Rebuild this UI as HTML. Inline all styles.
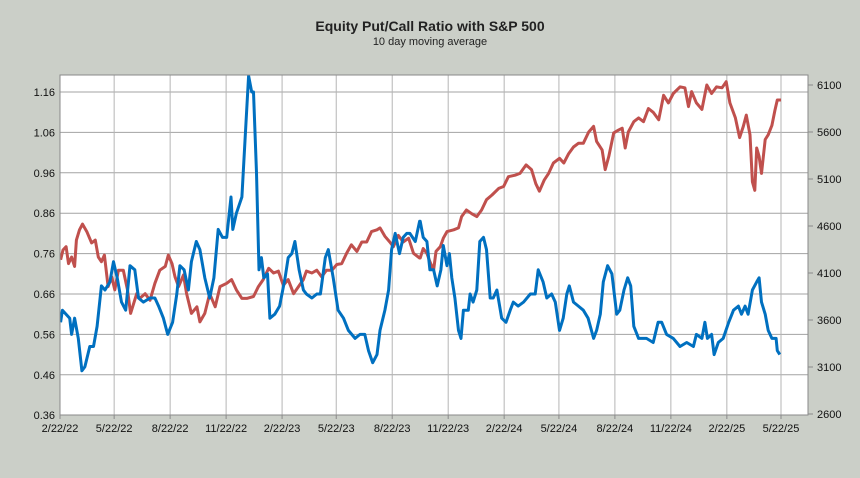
<!DOCTYPE html>
<html><head><meta charset="utf-8"><style>
html,body{margin:0;padding:0;background:#cbcfc8;}
svg{display:block;font-family:"Liberation Sans",Arial,sans-serif;}
</style></head><body>
<svg id="chart" width="860" height="478">
<rect x="0" y="0" width="860" height="478" fill="#cbcfc8"/>
<text x="430" y="31" text-anchor="middle" font-size="14" font-weight="bold" fill="#222">Equity Put/Call Ratio with S&amp;P 500</text>
<text x="430" y="45" text-anchor="middle" font-size="11" fill="#222">10 day moving average</text>
<defs><clipPath id="clip"><rect x="60" y="75" width="748" height="340"/></clipPath></defs>
<rect x="60" y="75" width="748" height="340" fill="#fff"/>
<g id="grid"></g><g id="series" clip-path="url(#clip)"></g>
<rect x="60" y="75" width="748" height="340" fill="none" stroke="#8a8a8a" stroke-width="1"/>
<g id="axes"></g>
</svg>
<script>
const xTickLabels=["2/22/22","5/22/22","8/22/22","11/22/22","2/22/23","5/22/23","8/22/23","11/22/23","2/22/24","5/22/24","8/22/24","11/22/24","2/22/25","5/22/25"];
const xTickDays=[0,89,181,273,365,454,546,638,730,820,912,1004,1096,1185];
const leftTicks=[0.36,0.46,0.56,0.66,0.76,0.86,0.96,1.06,1.16];
const rightTicks=[2600,3100,3600,4100,4600,5100,5600,6100];
const pcDays=[1,4,16,19,24,30,36,41,49,55,61,68,74,82,88,94,101,108,115,123,129,137,148,156,162,170,177,185,192,197,204,211,216,224,230,238,246,253,260,267,274,281,284,290,299,304,310,315,318,323,327,331,335,341,345,353,361,370,375,381,386,393,400,405,414,422,428,436,441,449,457,466,474,485,493,501,507,514,521,526,534,540,545,551,558,564,570,575,584,591,592,597,603,608,614,620,626,630,636,640,644,649,655,659,663,671,674,679,685,690,696,701,707,712,718,726,733,740,745,753,762,773,781,786,794,800,808,814,821,827,833,837,844,852,860,868,877,882,888,893,900,907,915,920,927,933,938,943,951,964,975,983,989,997,1008,1019,1030,1041,1046,1055,1060,1064,1071,1075,1082,1090,1099,1107,1115,1120,1126,1131,1138,1145,1149,1153,1159,1164,1170,1177,1179,1183];
const pcValues=[0.59,0.62,0.60,0.56,0.60,0.55,0.47,0.48,0.53,0.53,0.58,0.68,0.67,0.69,0.74,0.70,0.64,0.62,0.73,0.72,0.65,0.64,0.65,0.65,0.63,0.60,0.56,0.59,0.66,0.73,0.72,0.67,0.74,0.79,0.77,0.70,0.65,0.70,0.82,0.80,0.80,0.90,0.82,0.86,0.90,1.04,1.20,1.16,1.16,0.96,0.72,0.75,0.70,0.71,0.60,0.61,0.63,0.70,0.75,0.76,0.79,0.72,0.67,0.66,0.65,0.66,0.66,0.75,0.77,0.70,0.62,0.60,0.57,0.55,0.56,0.56,0.52,0.49,0.51,0.57,0.62,0.67,0.77,0.81,0.76,0.80,0.81,0.81,0.79,0.84,0.84,0.80,0.79,0.72,0.72,0.68,0.72,0.78,0.73,0.76,0.70,0.65,0.57,0.55,0.62,0.62,0.66,0.64,0.67,0.79,0.80,0.77,0.65,0.65,0.67,0.60,0.59,0.62,0.64,0.63,0.64,0.66,0.66,0.72,0.69,0.65,0.66,0.64,0.57,0.60,0.66,0.68,0.64,0.63,0.62,0.60,0.55,0.57,0.61,0.69,0.73,0.71,0.61,0.62,0.67,0.70,0.68,0.58,0.55,0.55,0.54,0.59,0.59,0.56,0.55,0.53,0.54,0.53,0.56,0.55,0.59,0.55,0.56,0.51,0.54,0.55,0.59,0.62,0.63,0.61,0.63,0.61,0.67,0.69,0.70,0.64,0.61,0.57,0.55,0.55,0.52,0.51];
const spxDays=[1,5,10,14,19,24,27,32,37,44,52,58,63,68,73,79,85,90,96,104,111,116,126,131,140,148,156,164,173,178,184,189,195,203,208,216,225,230,238,246,255,263,274,282,290,299,307,318,326,334,343,351,359,367,375,384,392,400,405,414,422,430,438,447,455,463,471,479,488,496,504,512,521,526,534,542,548,556,564,573,581,591,592,597,603,608,614,618,625,630,636,647,655,660,668,677,685,693,701,710,721,729,737,748,756,766,775,782,788,796,803,811,821,828,836,844,852,860,869,877,882,891,896,902,910,918,924,929,934,943,951,959,967,975,984,992,1000,1008,1019,1027,1033,1038,1046,1055,1063,1071,1079,1088,1095,1101,1110,1117,1123,1128,1134,1138,1142,1145,1149,1153,1159,1164,1170,1175,1179,1185];
const spxValues=[4240,4345,4380,4200,4270,4170,4450,4560,4620,4540,4420,4450,4270,4220,4290,3955,4060,3920,4130,4130,3920,3670,3880,3830,3880,3810,3990,4130,4170,4290,4200,4060,3955,4080,3880,3670,3740,3580,3670,3880,3740,3955,3990,4030,3920,3830,3830,3850,3955,4030,4150,4100,4120,3970,4030,3880,3955,4030,4120,4100,4130,4060,4130,4130,4190,4200,4310,4400,4330,4430,4430,4540,4560,4580,4490,4430,4380,4500,4430,4470,4310,4260,4260,4360,4310,4220,4130,4330,4380,4470,4540,4560,4580,4700,4770,4730,4700,4770,4880,4930,5000,5020,5125,5140,5160,5250,5200,5050,4970,5090,5160,5270,5320,5270,5370,5440,5480,5480,5600,5660,5500,5410,5200,5340,5590,5620,5640,5430,5600,5710,5750,5710,5850,5810,5730,5990,5910,6010,6080,6070,5870,6030,5910,5840,6100,6010,6080,6070,6135,5910,5750,5540,5660,5780,5570,5070,4980,5430,5340,5160,5520,5570,5670,5830,5940,5940];

const NS="http://www.w3.org/2000/svg";
const L=60,R=808,T=75,B=415;
const xS=d=>L+d*(721/1185);
const yL=v=>92+(1.16-v)*404;
const yR=v=>85+(6100-v)*(47/500);
function mk(tag,attrs,parent){const e=document.createElementNS(NS,tag);for(const k in attrs)e.setAttribute(k,attrs[k]);parent.appendChild(e);return e;}
const grid=document.getElementById('grid'),axes=document.getElementById('axes'),series=document.getElementById('series');
leftTicks.forEach((v,i)=>{
  const y=yL(v);
  if(i>0){const g=mk('line',{x1:L,x2:R,y1:y,y2:y,stroke:'#a3a3a3','stroke-width':1},grid);
  
  }
  const t=mk('text',{x:L-5,y:y+4,'text-anchor':'end','font-size':11,fill:'#111'},axes);
  t.textContent=v.toFixed(2);
  
  
});
rightTicks.forEach(v=>{
  const y=yR(v);
  const tk=mk('line',{x1:R,x2:R+5,y1:y,y2:y,stroke:'#8a8a8a'},axes);
  
  
  const t=mk('text',{x:R+9,y:y+4,'font-size':11,fill:'#111'},axes);
  t.textContent=v;
  
  
});
xTickDays.forEach((d,i)=>{
  const x=xS(d);
  if(i>0){const g=mk('line',{x1:x,x2:x,y1:T,y2:B,stroke:'#b5b5b5','stroke-width':1},grid);
  
  }
  const tk=mk('line',{x1:x,x2:x,y1:B,y2:B+4,stroke:'#8a8a8a'},axes);
  
  
  const t=mk('text',{x:x,y:B+17,'text-anchor':'middle','font-size':11,fill:'#111'},axes);
  t.textContent=xTickLabels[i];
  
  
});
const spxPath=mk('path',{d:spxDays.map((d,i)=>(i?'L':'M')+xS(d).toFixed(1)+' '+yR(spxValues[i]).toFixed(1)).join(''),fill:'none',stroke:'#c0504d','stroke-width':3,'stroke-linejoin':'round'},series);


const pcPath=mk('path',{d:pcDays.map((d,i)=>(i?'L':'M')+xS(d).toFixed(1)+' '+yL(pcValues[i]).toFixed(1)).join(''),fill:'none',stroke:'#0070c0','stroke-width':3,'stroke-linejoin':'round'},series);


</script>
</body></html>
